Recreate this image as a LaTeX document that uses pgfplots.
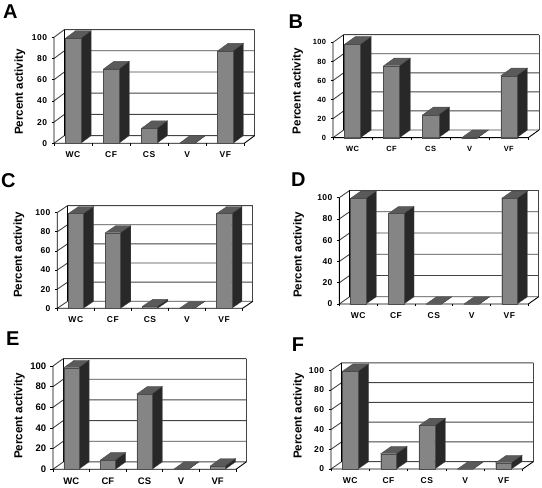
\documentclass[border=0pt]{standalone}
\usepackage{fontspec}
\setmainfont{Liberation Sans}
\newfontfamily\spaced[LetterSpace=6]{Liberation Sans}
\usepackage{pgfplots}
\pgfplotsset{compat=1.18}
\definecolor{barfront}{HTML}{858585}
\definecolor{bartop}{HTML}{5A5A5A}
\definecolor{barside}{HTML}{282828}
\definecolor{gridc}{HTML}{444444}

% geometry, in pixels of the reference: x0,y0 front bottom left; W,H front size; dx,dy depth; lx,ly label centre
\newcommand\geom[8]{%
  \def\xo{#1}\def\yo{#2}\def\wid{#3}\def\hei{#4}\def\dpx{#5}\def\dpy{#6}\def\lbx{#7}\def\lby{#8}%
  \pgfmathsetmacro\yoT{488-\yo}%
  \pgfmathsetmacro\ddx{5*\dpx/\wid}%
  \pgfmathsetmacro\ddy{100*\dpy/\hei}%
  \pgfmathsetmacro\xmx{5+\ddx}%
  \pgfmathsetmacro\ymx{100+\ddy}%
  \pgfmathsetmacro\fullw{\wid+\dpx}%
  \pgfmathsetmacro\fullh{\hei+\dpy}%
  \pgfmathsetmacro\bw{0.41*\wid/5}%
  \pgfmathsetmacro\lxr{(\lbx-\xo)/\fullw}%
  \pgfmathsetmacro\lyr{(\yo-\lby)/\fullh}%
}
% top and side of one bar; #1 category, #2 value
\newcommand\faces[2]{%
  \pgfmathsetmacro\xa{#1+0.295}%
  \pgfmathsetmacro\xb{#1+0.705}%
  \pgfmathsetmacro\xc{\xa+\ddx}%
  \pgfmathsetmacro\xd{\xb+\ddx}%
  \pgfmathsetmacro\yb{#2+\ddy}%
  \addplot[fill=bartop,draw=black!70,line width=0.3pt] coordinates {(\xa,#2)(\xb,#2)(\xd,\yb)(\xc,\yb)} --cycle;
  \addplot[fill=barside,draw=black!70,line width=0.3pt] coordinates {(\xb,0)(\xb,#2)(\xd,\yb)(\xd,\ddy)} --cycle;
}
\newcommand\panel[6]{%
\begin{axis}[
  at={(\xo pt,\yoT pt)},anchor=south west,scale only axis,
  width=\fullw pt,height=\fullh pt,
  xmin=0,xmax=\xmx,ymin=0,ymax=\ymx,clip=false,
  axis lines=left,axis line style={draw=none},
  tick align=outside,
  xtick={0.5,1.5,2.5,3.5,4.5},xticklabels={WC,CF,CS,V,VF},
  major x tick style={draw=none},
  minor xtick={0,1,2,3,4,5},minor tick length=2.5pt,
  minor x tick style={black,line width=0.7pt},
  ytick={0,20,40,60,80,100},major tick length=2.5pt,
  y tick style={black,line width=0.7pt},
  /pgf/number format/assume math mode=true,
  tick label style={font=#1\bfseries},
  xticklabel style={yshift=-2.2pt},
  yticklabel style={xshift=-0.8pt},
  ylabel={Percent activity},
  ylabel style={at={(axis description cs:\lxr,\lyr)},anchor=center,font=\fontsize{11.6}{13}\selectfont\bfseries},
]
\foreach \t in {20,40,60,80,100}{
  \addplot[gridc,line width=0.9pt] coordinates {(0,\t)(\ddx,\t+\ddy)(\xmx,\t+\ddy)};
}
\addplot[gridc,line width=0.9pt] coordinates {(0,0)(\ddx,\ddy)(\xmx,\ddy)};
\addplot[black,line width=0.9pt] coordinates {(\ddx,\ddy)(\ddx,\ymx)};
\addplot[gridc,line width=0.9pt] coordinates {(\xmx,\ddy)(\xmx,\ymx)};
\addplot[black,line width=0.9pt] coordinates {(0,100)(0,0)(5,0)(\xmx,\ddy)};
\faces{0}{#2}\faces{1}{#3}\faces{2}{#4}\faces{3}{#5}\faces{4}{#6}
\addplot[ybar,bar width=\bw pt,bar shift=0pt,fill=barfront,draw=black!70,line width=0.3pt]
  coordinates {(0.5,#2)(1.5,#3)(2.5,#4)(3.5,#5)(4.5,#6)};
\end{axis}}
\newcommand\letter[3]{\pgfmathsetmacro\ly{488-#3}\node[anchor=base west,inner sep=0pt,font=\fontsize{20}{22}\selectfont\bfseries] at (#2 pt,\ly pt) {#1};}

\begin{document}
\begin{tikzpicture}[x=1pt,y=1pt]
\path[use as bounding box] (0,0) rectangle (542,488);
\def\sf{\spaced\fontsize{8.5}{10}\selectfont}
\geom{54}{143.3}{190.3}{106}{10.4}{7.7}{20}{92}
\panel{\sf}{99}{70}{14}{0}{87}
\geom{333}{137.7}{195.3}{95.3}{10.7}{7.7}{297.7}{91.3}
\panel{\spaced\fontsize{7.5}{9}\selectfont}{98}{75.5}{24}{0}{65}
\geom{57.3}{308.3}{185.3}{95.7}{10.3}{7}{19}{255}
\panel{\sf}{99}{79}{2}{0}{99}
\geom{339.3}{304}{189}{106.3}{10.3}{7.2}{298.7}{255}
\panel{\sf}{99.4}{85}{0}{0}{99.4}
\geom{53}{469.3}{183}{103.3}{10.3}{7.4}{19.3}{416}
\panel{\fontsize{9.5}{11}\selectfont}{98.4}{9}{73}{0}{3.2}
\geom{331}{469}{191.7}{98.7}{10.7}{7.4}{298.7}{416}
\panel{\sf}{99}{15.5}{44}{0}{6.4}
\letter{A}{3}{19}
\letter{B}{288.3}{28.3}
\letter{C}{1}{187.7}
\letter{D}{291}{187}
\letter{E}{6}{345.7}
\letter{F}{291.7}{352}
\end{tikzpicture}
\end{document}
